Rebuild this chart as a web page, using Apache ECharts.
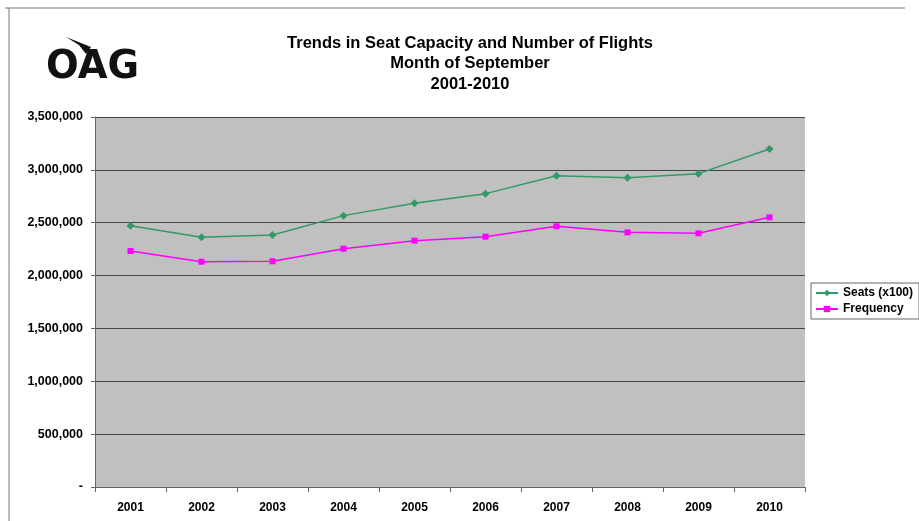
<!DOCTYPE html>
<html>
<head>
<meta charset="utf-8">
<script src="https://cdn.jsdelivr.net/npm/echarts@6/dist/echarts.min.js"></script>
<style>html,body{margin:0;padding:0;background:#fff;}#c{width:919px;height:521px;}</style>
</head>
<body>
<div id="c"></div>
<script>
var categories = ['2001','2002','2003','2004','2005','2006','2007','2008','2009','2010'];
var seats = [2472000, 2362000, 2384000, 2567000, 2684000, 2775000, 2945000, 2926000, 2964000, 3197000];
var frequency = [2233000, 2131000, 2135000, 2254000, 2330000, 2368000, 2466000, 2409000, 2400000, 2551000];
var titleLines = ['Trends in Seat Capacity and Number of Flights', 'Month of September', '2001-2010'];

var chart = echarts.init(document.getElementById('c'));
var font = 'Liberation Sans, Arial, sans-serif';
chart.setOption({
  animation: false,
  backgroundColor: '#fff',
  title: {
    text: titleLines.join('\n'),
    left: 465, top: 28, textAlign: 'center',
    textStyle: { fontFamily: font, fontWeight: 'bold', fontSize: 16.5, lineHeight: 20.5, color: '#000' }
  },
  graphic: [
    { type: 'line', shape: { x1: 5, y1: 8, x2: 905, y2: 8 }, style: { stroke: '#777', lineWidth: 1 } },
    { type: 'line', shape: { x1: 9, y1: 8, x2: 9, y2: 521 }, style: { stroke: '#777', lineWidth: 1 } },
    { type: 'text', left: 46, top: 48, style: { text: 'OAG', fontFamily: 'DejaVu Sans', fontWeight: 'bold', fontSize: 38.5, fill: '#111', letterSpacing: 0.5 } },
    { type: 'polygon', shape: { points: [[66, 37], [91, 47], [86, 54], [79, 45]] }, style: { fill: '#111' } }
  ],
  legend: {
    orient: 'vertical', left: 811, top: 283,
    itemWidth: 22, itemHeight: 8, itemGap: 4,
    padding: [4, 6, 4, 4],
    borderColor: '#666', borderWidth: 1, backgroundColor: '#fff',
    textStyle: { fontFamily: font, fontWeight: 'bold', fontSize: 12, color: '#000' },
    data: ['Seats (x100)', 'Frequency']
  },
  grid: { left: 95, right: 114, top: 117, bottom: 34, show: true, backgroundColor: '#c0c0c0', borderWidth: 0 },
  xAxis: {
    type: 'category', data: categories, boundaryGap: true,
    axisLine: { lineStyle: { color: '#666', width: 1 } },
    axisTick: { show: true, length: 5, lineStyle: { color: '#666' } },
    axisLabel: { fontFamily: font, fontWeight: 'bold', fontSize: 12, color: '#000', margin: 15 }
  },
  yAxis: {
    type: 'value', min: 0, max: 3500000, interval: 500000,
    axisLine: { show: true, lineStyle: { color: '#666' } },
    axisTick: { show: true, length: 4, lineStyle: { color: '#666' } },
    splitLine: { lineStyle: { color: '#444', width: 1 } },
    axisLabel: {
      fontFamily: font, fontWeight: 'bold', fontSize: 12.5, color: '#000', margin: 12,
      formatter: function (v) { return v === 0 ? '-' : v.toLocaleString('en-US'); }
    }
  },
  series: [
    { name: 'Seats (x100)', type: 'line', data: seats, symbol: 'diamond', symbolSize: 8,
      itemStyle: { color: '#339966' }, lineStyle: { color: '#339966', width: 1.5 } },
    { name: 'Frequency', type: 'line', data: frequency, symbol: 'rect', symbolSize: 6,
      itemStyle: { color: '#ff00ff' }, lineStyle: { color: '#ff00ff', width: 1.5 } }
  ]
});
</script>
</body>
</html>
